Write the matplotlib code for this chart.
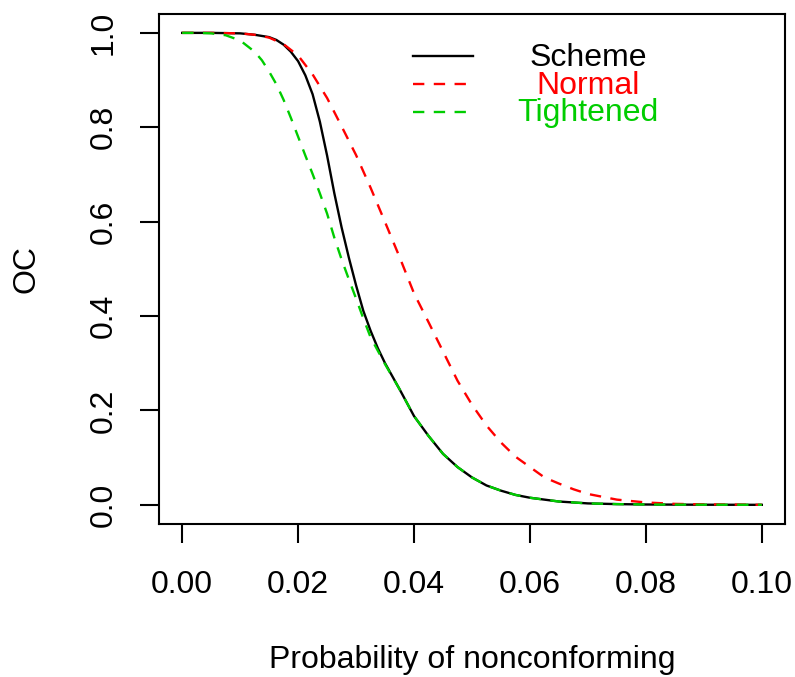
import matplotlib
matplotlib.use('Agg')
import matplotlib.pyplot as plt
from matplotlib.lines import Line2D

plt.rcParams['font.family'] = ['Liberation Sans', 'DejaVu Sans']

# OC curves
p_scheme = [0.0, 0.005, 0.01, 0.0125, 0.015, 0.01625, 0.0175, 0.01875, 0.02,
            0.02125, 0.0225, 0.02375, 0.025, 0.02625, 0.0275, 0.02875, 0.03,
            0.03125, 0.0325, 0.03375, 0.035, 0.0375, 0.04, 0.0425, 0.045,
            0.0475, 0.05, 0.0525, 0.055, 0.0575, 0.06, 0.065, 0.07, 0.075,
            0.08, 0.09, 0.1]
oc_scheme = [1.0, 1.0, 0.999, 0.996, 0.991, 0.985, 0.975, 0.960, 0.940,
             0.910, 0.870, 0.812, 0.740, 0.660, 0.588, 0.524, 0.465,
             0.411, 0.369, 0.332, 0.300, 0.245, 0.188, 0.146, 0.108,
             0.080, 0.058, 0.041, 0.030, 0.021, 0.015, 0.007, 0.003, 0.0015,
             0.0007, 0.0002, 0.0]

p_normal = [0.0, 0.005, 0.01, 0.0125, 0.015, 0.0175, 0.02, 0.0225, 0.025,
            0.0275, 0.03, 0.0325, 0.035, 0.0375, 0.04, 0.0425, 0.045, 0.0475,
            0.05, 0.0525, 0.055, 0.0575, 0.06, 0.0625, 0.065, 0.0675, 0.07,
            0.075, 0.08, 0.085, 0.09, 0.1]
oc_normal = [1.0, 1.0, 0.999, 0.996, 0.990, 0.976, 0.952, 0.912, 0.862,
             0.802, 0.741, 0.672, 0.599, 0.525, 0.448, 0.387, 0.325, 0.263,
             0.212, 0.168, 0.132, 0.102, 0.080, 0.058, 0.045, 0.033, 0.023,
             0.011, 0.005, 0.002, 0.001, 0.0]

p_tight = [0.0, 0.0025, 0.005, 0.0075, 0.01, 0.0125, 0.01375, 0.015, 0.01625,
           0.0175, 0.01875, 0.02, 0.02125, 0.0225, 0.02375, 0.025, 0.02625,
           0.0275, 0.02875, 0.03, 0.03125, 0.0325, 0.035, 0.0375, 0.04, 0.0425,
           0.045, 0.0475, 0.05, 0.0525, 0.055, 0.0575, 0.06, 0.065, 0.07,
           0.075, 0.08, 0.09, 0.1]
oc_tight = [1.0, 1.0, 0.999, 0.995, 0.984, 0.960, 0.942, 0.918, 0.891,
            0.858, 0.820, 0.780, 0.740, 0.701, 0.660, 0.617, 0.566,
            0.520, 0.478, 0.437, 0.395, 0.355, 0.298, 0.245, 0.188, 0.146,
            0.108, 0.080, 0.058, 0.041, 0.030, 0.021, 0.015, 0.007, 0.003,
            0.0015, 0.0007, 0.0002, 0.0]

x_ticks = [0.0, 0.02, 0.04, 0.06, 0.08, 0.10]
y_ticks = [0.0, 0.2, 0.4, 0.6, 0.8, 1.0]
labels = ['Scheme', 'Normal', 'Tightened']
colors = ['black', '#FF0000', '#00CD00']

W, H = 795, 677
LW = 1.7
DASH = (4.8, 4.0)
fig = plt.figure(figsize=(W / 100, H / 100), dpi=100)
ax = fig.add_axes([159 / W, 1 - 523.7 / H, (785 - 159) / W, (523.7 - 14) / H])

ax.plot(p_scheme, oc_scheme, color=colors[0], lw=LW)
ax.plot(p_normal, oc_normal, color=colors[1], lw=LW, dashes=DASH)
ax.plot(p_tight, oc_tight, color=colors[2], lw=LW, dashes=DASH)

ax.set_xlim(-0.004, 0.104)
ax.set_ylim(-0.04, 1.04)
ax.set_xticks(x_ticks)
ax.set_xticklabels(['%.2f' % v for v in x_ticks])
ax.set_yticks(y_ticks)
ax.set_yticklabels(['%.1f' % v for v in y_ticks], rotation=90, va='center')
ax.tick_params(length=14, width=1.5, labelsize=23)
ax.tick_params(axis='x', pad=19)
ax.tick_params(axis='y', pad=15)
for s in ax.spines.values():
    s.set_linewidth(1.5)

fig.text(472 / W, 1 - 660 / H, 'Probability of nonconforming',
         ha='center', va='center', fontsize=23)
fig.text(27 / W, 1 - 269 / H, 'OC', rotation=90,
         ha='center', va='center', fontsize=23)

# legend without box, text centred
leg_y = [56, 84, 112]
for lab, col, yy, ls in zip(labels, colors, leg_y, ['-', '--', '--']):
    ln = Line2D([413 / W, 473 / W], [1 - yy / H, 1 - yy / H],
                transform=fig.transFigure, color=col, lw=LW)
    if ls == '--':
        ln.set_dashes(DASH)
    fig.add_artist(ln)
    fig.text(588 / W, 1 - (yy + 1.5) / H, lab, color=col,
             ha='center', va='center', fontsize=23)

fig.savefig('out.png', dpi=100)
